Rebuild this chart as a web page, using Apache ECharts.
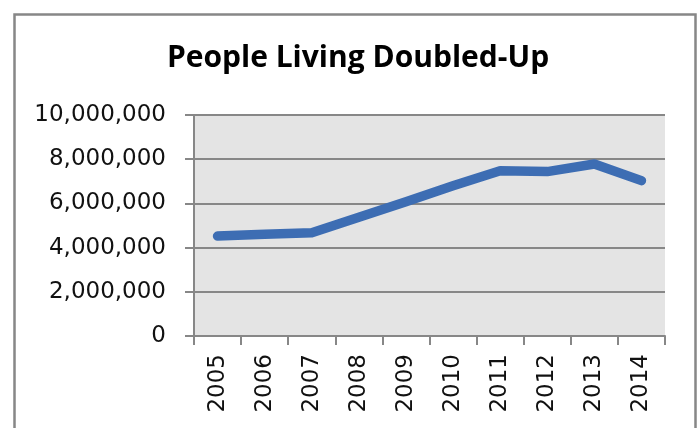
<!DOCTYPE html>
<html>
<head>
<meta charset="utf-8">
<script src="https://cdn.jsdelivr.net/npm/echarts@6/dist/echarts.min.js"></script>
<style>
  html, body { margin: 0; padding: 0; background: #ffffff; }
  #chart { width: 700px; height: 428px; }
</style>
</head>
<body>
<div id="chart"></div>
<script>
// Years along the horizontal axis
const years = ['2005', '2006', '2007', '2008', '2009', '2010', '2011', '2012', '2013', '2014'];
// Number of people living doubled-up, per year
const doubledUp = [4520000, 4600000, 4670000, 5370000, 6080000, 6800000, 7480000, 7440000, 7780000, 7030000];
// Value axis range and step
const yMin = 0;
const yMax = 10000000;
const yStep = 2000000;

const chartTitle = 'People Living Doubled-Up';

const axisGray = '#878787';
const labelFont = 'DejaVu Sans';

const chart = echarts.init(document.getElementById('chart'), null, { renderer: 'canvas' });

chart.setOption({
  backgroundColor: '#ffffff',
  animation: false,
  graphic: [
    {
      type: 'rect',
      shape: { x: 14.5, y: 14.5, width: 681, height: 440 },
      style: { fill: null, stroke: axisGray, lineWidth: 2.5 },
      silent: true
    },
    {
      type: 'text',
      style: {
        x: 358,
        y: 58,
        text: chartTitle,
        font: 'bold 30px "Open Sans", Lato, sans-serif',
        fill: '#000000',
        textAlign: 'center',
        textVerticalAlign: 'middle'
      },
      silent: true
    }
  ],
  grid: {
    left: 194,
    right: 35,
    top: 115,
    bottom: 92,
    show: true,
    backgroundColor: '#e4e4e4',
    borderWidth: 0
  },
  xAxis: {
    type: 'category',
    data: years,
    boundaryGap: true,
    axisLine: { show: true, lineStyle: { color: axisGray, width: 2 } },
    axisTick: { show: true, length: 9, alignWithLabel: false, lineStyle: { color: axisGray, width: 2 } },
    axisLabel: {
      rotate: 90,
      margin: 18,
      color: '#111111',
      fontFamily: labelFont,
      fontSize: 23,
      interval: 0
    },
    splitLine: { show: false }
  },
  yAxis: {
    type: 'value',
    min: yMin,
    max: yMax,
    interval: yStep,
    axisLine: { show: true, lineStyle: { color: axisGray, width: 2 } },
    axisTick: { show: true, length: 9, lineStyle: { color: axisGray, width: 2 } },
    axisLabel: {
      margin: 28,
      color: '#111111',
      fontFamily: labelFont,
      fontSize: 23,
      formatter: function (v) { return v.toLocaleString('en-US'); }
    },
    splitLine: { show: true, lineStyle: { color: axisGray, width: 2 } }
  },
  series: [
    {
      type: 'line',
      data: doubledUp,
      symbol: 'none',
      lineStyle: { color: '#3d6db3', width: 9.5, cap: 'round', join: 'round' }
    }
  ]
});
</script>
</body>
</html>
